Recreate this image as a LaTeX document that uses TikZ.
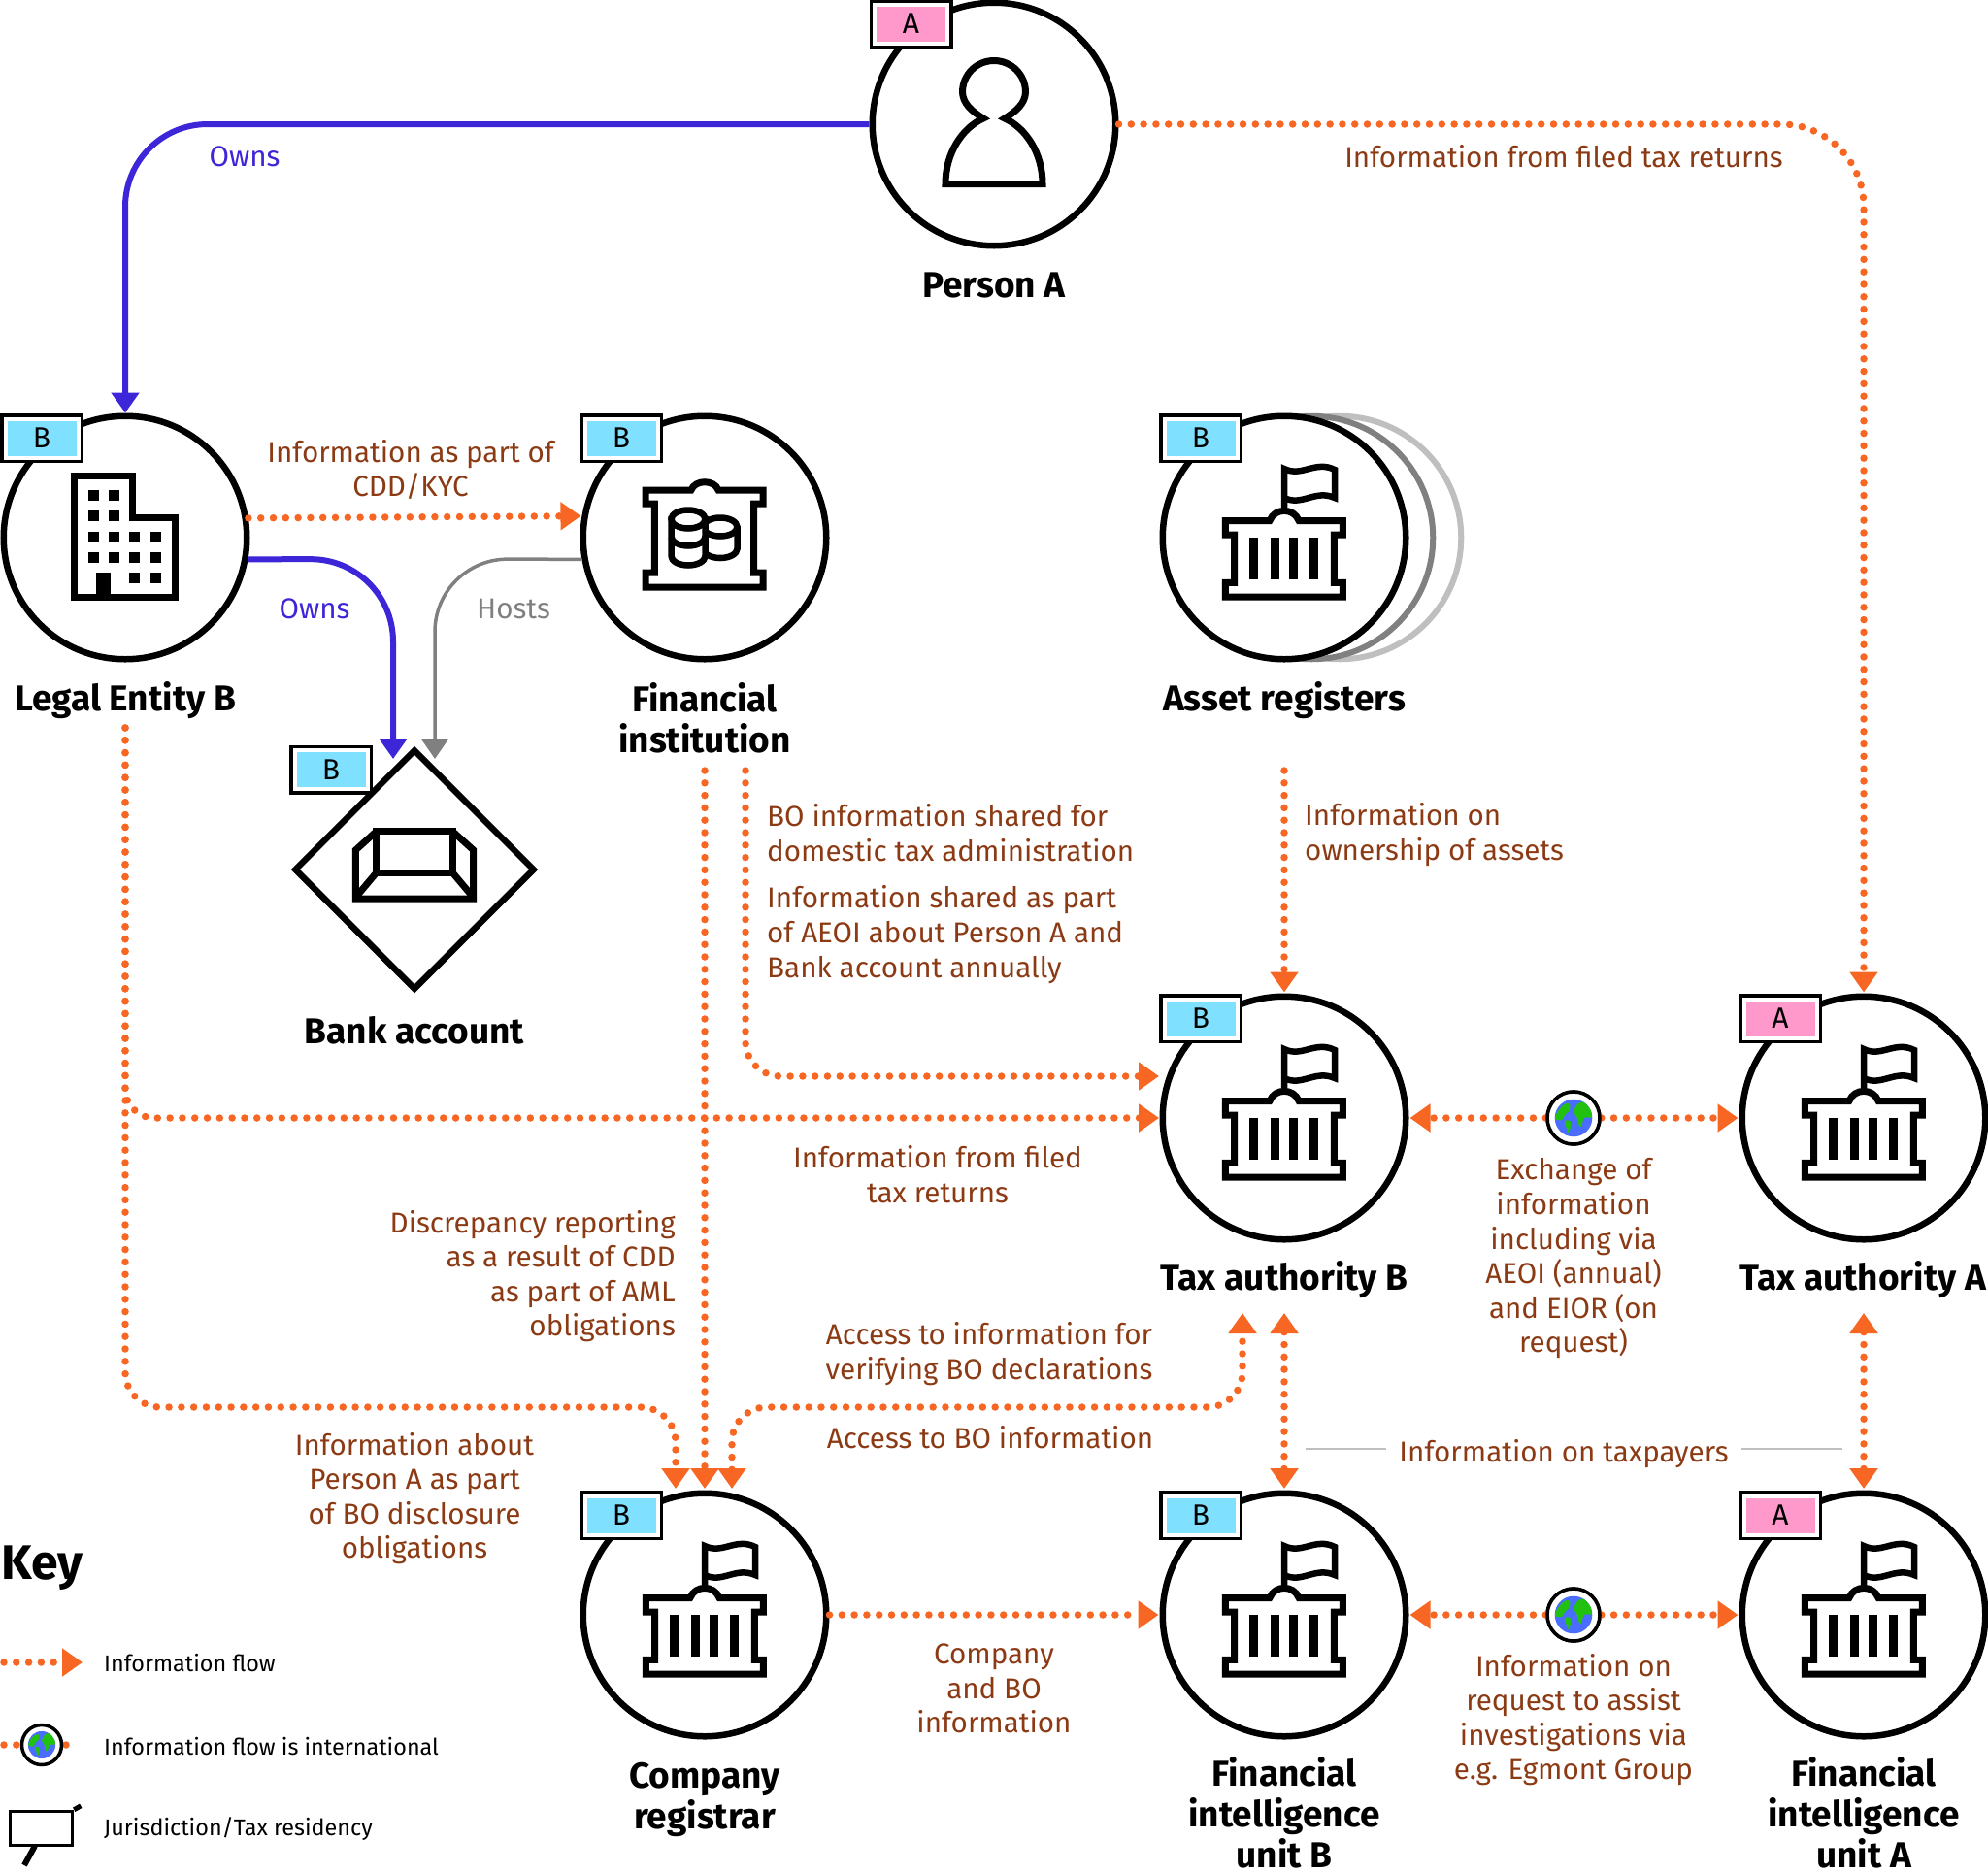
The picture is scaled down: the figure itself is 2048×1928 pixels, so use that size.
\documentclass[tikz,border=0pt]{standalone}
\usepackage{fontspec}
\usetikzlibrary{arrows.meta,shapes.geometric,calc}
\setmainfont{Fira Sans}[BoldFont=* Bold]
\definecolor{flowc}{HTML}{F76723}
\definecolor{txtc}{HTML}{8B3A14}
\definecolor{ownc}{HTML}{3D25D8}
\definecolor{greyc}{HTML}{808080}
\definecolor{pinkc}{HTML}{FF99CC}
\definecolor{cyanc}{HTML}{80E0FF}
\definecolor{globeb}{HTML}{4A6CFF}
\definecolor{globeg}{HTML}{22C10F}
\tikzset{
  x=1pt,y=-1pt,
  entity/.style={circle,draw=black,fill=white,line width=6.5pt,minimum size=250.5pt,inner sep=0pt},
  ghost/.style={circle,draw=#1,fill=white,line width=6pt,minimum size=250.5pt,inner sep=0pt},
  vault/.style={diamond,draw=black,fill=white,line width=6.5pt,minimum width=248pt,minimum height=248pt,inner sep=0pt},
  flow/.style={draw=flowc,line width=7.5pt,dash pattern=on 0pt off 12.8pt,line cap=round},
  tipB/.style={-{Triangle[length=21pt,width=28pt]},shorten >=1pt},
  tipBoth/.style={{Triangle[length=21pt,width=28pt]}-{Triangle[length=21pt,width=28pt]},shorten >=1pt,shorten <=1pt},
  own/.style={draw=ownc,line width=6pt,-{Triangle[length=21pt,width=28pt]}},
  host/.style={draw=greyc,line width=3.5pt,-{Triangle[length=21pt,width=28pt]}},
  lbl/.style={text=txtc,font=\fontsize{29.6}{35.6}\selectfont,align=center,inner sep=0pt},
  lbll/.style={text=txtc,font=\fontsize{29.6}{35.6}\selectfont,align=left,inner sep=0pt,anchor=west},
  lblr/.style={text=txtc,font=\fontsize{29.6}{35.6}\selectfont,align=right,inner sep=0pt,anchor=east},
  ttl/.style={text=black,font=\fontsize{37}{42}\selectfont\bfseries,align=center,inner sep=0pt},
  keytxt/.style={text=black,font=\fontsize{23.4}{28}\selectfont,inner sep=0pt,anchor=west},
  tagouter/.style={draw=black,fill=white,line width=3.5pt,minimum width=82.5pt,minimum height=47.5pt,inner sep=0pt},
  taginner/.style={fill=#1,minimum width=71pt,minimum height=36pt,inner sep=0pt,text=black,font=\fontsize{30}{30}\selectfont},
  globering/.style={circle,draw=black,fill=white,line width=3.5pt,inner sep=0pt},
  icon/.style={draw=black,line width=7pt,miter limit=10,line join=miter},
  personicon/.pic={
    \draw[icon] (-11,-6) .. controls (-24,-14) and (-32,-22) .. (-32.5,-33)
      .. controls (-32.5,-51) and (-18,-65.5) .. (0,-65.5)
      .. controls (18,-65.5) and (32.5,-51) .. (32.5,-33)
      .. controls (32,-22) and (24,-14) .. (11,-6)
      .. controls (33,4) and (50,30) .. (50,61.5) -- (-50,61.5)
      .. controls (-50,30) and (-33,4) .. (-11,-6) -- cycle;
  },
  officeicon/.pic={
    \draw[icon] (-53,-64) -- (7.5,-64) -- (7.5,-21) -- (51,-21) -- (51,61) -- (-53,61) -- cycle;
    \foreach \wx/\wy in {-33/-44,-11.7/-44,-33/-22.3,-11.7/-22.3,
      -33/-1,-11.7/-1,9.7/-1,31/-1,-33/20.3,-11.7/20.3,9.7/20.3,31/20.3,9.7/41.7,31/41.7}
      \fill[black] (\wx-5.5,\wy-5.5) rectangle (\wx+5.5,\wy+5.5);
    \fill[black] (-29.7,36) rectangle (-15,64);
  },
  bankicon/.pic={
    \draw[icon] (-61,-49) -- (-14,-49) .. controls (-10,-60) and (10,-60) .. (14,-49) -- (60,-49) -- (60,-35) -- (50.7,-35) -- (50.7,36) -- (60,36) -- (60,51) -- (-61,51) -- (-61,36) -- (-51.7,36) -- (-51.7,-35) -- (-61,-35) -- cycle;
    \begin{scope}[line width=6.5pt,draw=black]
      \draw[fill=white] (16,-11) ellipse [x radius=17.5pt,y radius=9.5pt];
      \draw (33.5,-11) -- (33.5,11.5) arc [start angle=0,end angle=-180,x radius=17.5pt,y radius=9.5pt];
      \draw[fill=white] (-34.5,-19) -- (-34.5,19) arc [start angle=180,end angle=360,x radius=17.5pt,y radius=9.5pt] -- (0.5,-19) -- cycle;
      \draw[fill=white] (-17,-19) ellipse [x radius=17.5pt,y radius=9.5pt];
      \draw (-34.5,-1) arc [start angle=180,end angle=360,x radius=17.5pt,y radius=9.5pt];
    \end{scope}
  },
  govicon/.pic={
    \draw[icon] (-60.7,-17.5) -- (-15,-17.5) .. controls (-10,-31) and (10,-31) .. (15,-17.5) -- (60.3,-17.5) -- (60.3,-3) -- (51.3,-3) -- (51.3,46.3) -- (60.3,46.3) -- (60.3,61) -- (-60.7,61) -- (-60.7,46.3) -- (-51.3,46.3) -- (-51.3,-3) -- (-60.7,-3) -- cycle;
    \foreach \cx in {-31.2,-9.8,9.8,30.8}
      \fill[black] (\cx-4.5,0) rectangle (\cx+4.5,43.3);
    \draw[icon,line width=6.5pt] (0,-29) -- (0,-41) .. controls (18,-32) and (32,-50) .. (52,-41) -- (52,-70) .. controls (32,-80) and (18,-62) .. (0,-71) -- (0,-41);
  },
  vaulticon/.pic={
    \draw[icon] (-39.3,-39.3) -- (39.3,-39.3) -- (39.3,3.3) -- (-39.3,3.3) -- cycle;
    \draw[icon] (-39.3,-39.3) -- (-60.7,-20) -- (-60.7,30) -- (60.7,30) -- (60.7,-20) -- (39.3,-39.3);
    \draw[icon] (-39.3,3.3) -- (-60,28);
    \draw[icon] (39.3,3.3) -- (60,28);
  },
  globeicon/.pic={
    \fill[fill=globeb] (0,0) circle [radius=19.3pt];
    \begin{scope}
      \clip (0,0) circle [radius=19.3pt];
      \fill[globeg] plot[smooth cycle,tension=.7] coordinates {(0,-6) (5,-15) (12,-16) (20,-10) (19,-1) (11,0) (8,9) (5,6) (3,-2)};
      \fill[globeg] plot[smooth cycle,tension=.7] coordinates {(-19,0) (-13,-11) (-5,-15) (-4,-8) (-9,-3) (-12,2)};
      \fill[globeg] plot[smooth cycle,tension=.7] coordinates {(-9,3) (-3,4) (-5,15) (-8,8)};
    \end{scope}
  }
}
\newcommand{\tagbox}[5]{%
  \node[tagouter] (#1o) at (#2,#3) {};
  \node[taginner=#5] (#1) at (#2,#3) {#4};
}
\begin{document}
\begin{tikzpicture}
\useasboundingbox (0,0) rectangle (2048,1928);
% entities
\node[entity] (person) at (1024,128) {};
\node[entity] (legal) at (129,554) {};
\node[entity] (fin) at (726,554) {};
\node[ghost=black!25] (ghostb) at (1380,554) {};
\node[ghost=greyc] (ghosta) at (1351,554) {};
\node[entity] (asset) at (1323,554) {};
\node[vault] (bank) at (427,896) {};
\node[entity] (taxB) at (1323,1152) {};
\node[entity] (taxA) at (1920,1152) {};
\node[entity] (comp) at (726,1664) {};
\node[entity] (fiuB) at (1323,1664) {};
\node[entity] (fiuA) at (1920,1664) {};
\node[globering,minimum size=54pt] (globeX) at (1621,1152) {};
\node[globering,minimum size=54pt] (globeF) at (1621,1664) {};
% icons
\pic at (person) {personicon};
\pic at (legal) {officeicon};
\pic at (fin) {bankicon};
\pic at (bank) {vaulticon};
\foreach \g in {asset,taxB,taxA,comp,fiuB,fiuA} \pic at (\g) {govicon};
% free ends
\coordinate (legalout) at (129,750);
\coordinate (finout) at (726,794);
\coordinate (finoutb) at (768,794);
\coordinate (assetout) at (1323,794);
\coordinate (bankblue) at (405,782);
\coordinate (bankgrey) at (448,782);
\coordinate (taxBa) at (1280,1352);
\coordinate (taxBb) at (1323,1352);
\coordinate (taxAb) at (1920,1352);
\coordinate (compa) at (696,1535);
\coordinate (compb) at (726,1535);
\coordinate (compc) at (754,1535);
\coordinate (fiuBt) at (1323,1535);
\coordinate (fiuAt) at (1920,1535);
\coordinate (taxBfin) at (1195,1109);
\coordinate (taxBleg) at (1195,1152);
% connectors
\draw[own,rounded corners=85pt] (person.west) -- (129,128) -- (legal.north);
\draw[flow,tipB,rounded corners=85pt] (person.east) -- (1920,128) -- (taxA.north);
\draw[flow,tipB] (legal.9.5) -- (fin.170.5);
\draw[own,rounded corners=85pt] (legal.-10) -- (405,576) -- (bankblue);
\draw[host,rounded corners=75pt] (fin.190) -- (448,576) -- (bankgrey);
\draw[flow,tipB,rounded corners=30pt] (legalout) -- (129,1152) -- (taxBleg);
\draw[flow,tipB,rounded corners=36pt] (legalout) -- (129,1450) -- (696,1450) -- (compa);
\draw[flow,tipB] (finout) -- (compb);
\draw[flow,tipB,rounded corners=36pt] (finoutb) -- (768,1109) -- (taxBfin);
\draw[flow,tipB] (assetout) -- (taxB.north);
\draw[flow,tipBoth] (taxBb) -- (fiuBt);
\draw[flow,tipBoth] (taxAb) -- (fiuAt);
\draw[flow,tipBoth,rounded corners=36pt] (compc) -- (754,1450) -- (1280,1450) -- (taxBa);
\draw[flow,tipB] (globeX) -- (taxB.east);
\draw[flow,tipB] (globeX) -- (taxA.west);
\draw[flow,tipB] (globeF) -- (fiuB.east);
\draw[flow,tipB] (globeF) -- (fiuA.west);
\draw[flow,tipB] (comp.east) -- (fiuB.west);
\node[globering,minimum size=54pt] (globeXt) at (globeX) {};
\node[globering,minimum size=54pt] (globeFt) at (globeF) {};
\pic at (globeX) {globeicon};
\pic at (globeF) {globeicon};
% tags
\tagbox{tagP}{938.5}{24.5}{A}{pinkc}
\tagbox{tagL}{43}{451.5}{B}{cyanc}
\tagbox{tagF}{640}{451.5}{B}{cyanc}
\tagbox{tagS}{1237}{451.5}{B}{cyanc}
\tagbox{tagV}{341}{793}{B}{cyanc}
\tagbox{tagTB}{1237}{1049.5}{B}{cyanc}
\tagbox{tagTA}{1834}{1049.5}{A}{pinkc}
\tagbox{tagC}{640}{1561.5}{B}{cyanc}
\tagbox{tagUB}{1237}{1561.5}{B}{cyanc}
\tagbox{tagUA}{1834}{1561.5}{A}{pinkc}
% titles
\node[ttl] (tPerson) at (1024,294) {Person A};
\node[ttl] (tLegal) at (129,722) {Legal Entity B};
\node[ttl] (tFin) at (726,740) {Financial\\institution};
\node[ttl] (tAsset) at (1323,722) {Asset registers};
\node[ttl] (tBank) at (427,1062) {Bank account};
\node[ttl] (tTaxB) at (1323,1319) {Tax authority B};
\node[ttl] (tTaxA) at (1919,1319) {Tax authority A};
\node[ttl] (tComp) at (726,1854) {Company\\registrar};
\node[ttl] (tFiuB) at (1323,1868) {Financial\\intelligence\\unit B};
\node[ttl] (tFiuA) at (1920,1868) {Financial\\intelligence\\unit A};
% connector labels
\node[lbl,text=ownc] (l1) at (252,161) {Owns};
\node[lbl] (l2) at (1611,161) {Information from filed tax returns};
\node[lbl] (l3) at (423,484) {Information as part of\\CDD/KYC};
\node[lbl,text=ownc] (l4) at (324,627) {Owns};
\node[lbl,text=greyc] (l5) at (529,627) {Hosts};
\node[lbll] (l6) at (790,858) {BO information shared for\\domestic tax administration};
\node[lbll] (l7) at (790,963) {Information shared as part\\of AEOI about Person A and\\Bank account annually};
\node[lbll] (l8) at (1344,860) {Information on\\ownership of assets};
\node[lbl] (l9) at (966,1210) {Information from filed\\tax returns};
\node[lbl] (l10) at (1621,1297) {Exchange of\\information\\including via\\AEOI (annual)\\and EIOR (on\\request)};
\node[lblr] (l11) at (696,1315) {Discrepancy reporting\\as a result of CDD\\as part of AML\\obligations};
\node[lbl] (l12) at (1019,1395) {Access to information for\\verifying BO declarations};
\node[lbl] (l13) at (1020,1481) {Access to BO information};
\node[lbl] (l14) at (1611,1498) {Information on taxpayers};
\node[lbl] (l15) at (427,1544) {Information about\\Person A as part\\of BO disclosure\\obligations};
\node[lbl] (l16) at (1024,1740) {Company\\and BO\\information};
\node[lbl] (l17) at (1621,1772) {Information on\\request to assist\\investigations via\\e.g. Egmont Group};
\coordinate (tpl) at (1345,1493);
\coordinate (tpr) at (1898,1493);
\draw[black!25,line width=2pt,shorten >=13pt] (tpl) -- (l14.west |- tpl);
\draw[black!25,line width=2pt,shorten <=13pt] (l14.east |- tpr) -- (tpr);
% key
\node[inner sep=0pt,anchor=west,font=\fontsize{50}{52}\selectfont\bfseries] (kTitle) at (1,1616) {Key};
\coordinate (k1a) at (4,1713);
\coordinate (k1b) at (85,1713);
\coordinate (k2a) at (4,1798);
\coordinate (k2b) at (80,1798);
\draw[flow,tipB,shorten >=0pt] (k1a) -- (k1b);
\draw[flow] (k2a) -- (k2b);
\node[globering,minimum size=41pt] (kGlobe) at (43,1798) {};
\pic[scale=.73] at (kGlobe) {globeicon};
\node[keytxt] (k1) at (107,1713) {Information flow};
\node[keytxt] (k2) at (107,1799) {Information flow is international};
\node[keytxt] (k3) at (107,1885) {Jurisdiction/Tax residency};
\node[draw=black,fill=white,line width=3.5pt,minimum width=64pt,minimum height=35pt,inner sep=0pt] (kFlag) at (42.5,1884) {};
\draw[black,line width=6pt] (36,1902) -- (25,1922);
\draw[black,line width=5pt] (kFlag.north east) -- ++(7,-4);
\end{tikzpicture}
\end{document}
